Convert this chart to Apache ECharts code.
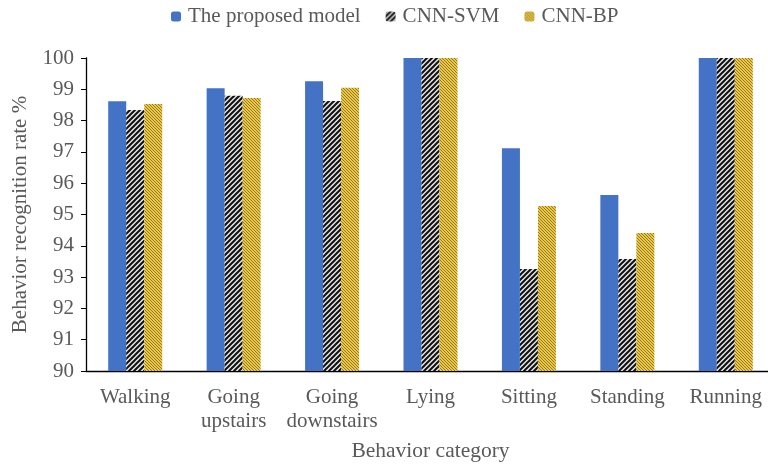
<!DOCTYPE html>
<html>
<head>
<meta charset="utf-8">
<script src="https://cdn.jsdelivr.net/npm/echarts@6/dist/echarts.min.js"></script>
<style>
  html, body { margin: 0; padding: 0; background: #fff; }
  #chart { width: 768px; height: 465px; }
</style>
</head>
<body>
<div id="chart"></div>
<script>
const categories = ["Walking", "Going\nupstairs", "Going\ndownstairs", "Lying", "Sitting", "Standing", "Running"];
const proposed = [98.62, 99.03, 99.26, 100, 97.12, 95.62, 100];
const cnnSvm = [98.34, 98.79, 98.63, 100, 93.26, 93.58, 100];
const cnnBp = [98.53, 98.72, 99.05, 100, 95.27, 94.41, 100];

const font = "'Liberation Serif', 'Times New Roman', serif";
const textGray = "#595959";

// hatched fill for CNN-SVM: black "//" stripes on white
function stripePattern() {
    const c = document.createElement("canvas");
    c.width = 5; c.height = 5;
    const g = c.getContext("2d");
    g.fillStyle = "#e6e6e6";
    g.fillRect(0, 0, 5, 5);
    g.strokeStyle = "#111";
    g.lineWidth = 2;
    g.beginPath();
    g.moveTo(-1, 6); g.lineTo(6, -1);
    g.moveTo(-6, 6); g.lineTo(1, -1);
    g.moveTo(4, 6); g.lineTo(11, -1);
    g.stroke();
    return c;
}

// fine gold hatch for CNN-BP
function goldPattern() {
    const c = document.createElement("canvas");
    c.width = 3; c.height = 3;
    const g = c.getContext("2d");
    g.fillStyle = "#e8c84c";
    g.fillRect(0, 0, 3, 3);
    g.fillStyle = "#9a7a1c";
    g.fillRect(0, 0, 1, 1);
    g.fillRect(1, 1, 1, 1);
    g.fillRect(2, 2, 1, 1);
    return c;
}

const svmFill = { image: stripePattern(), repeat: "repeat" };
const bpFill = { image: goldPattern(), repeat: "repeat" };

const chart = echarts.init(document.getElementById("chart"));
chart.setOption({
    animation: false,
    textStyle: { fontFamily: font },
    legend: {
        top: 1,
        left: 166,
        itemWidth: 10,
        itemHeight: 10,
        itemGap: 25,
        textStyle: { fontFamily: font, fontSize: 21, color: textGray, padding: [0, 0, 0, 2] },
        data: ["The proposed model", "CNN-SVM", "CNN-BP"]
    },
    grid: { left: 86, top: 58, width: 689, height: 313, outerBoundsMode: "none", containLabel: false },
    xAxis: {
        type: "category",
        data: categories,
        name: "Behavior category",
        nameLocation: "middle",
        nameGap: 69,
        nameTextStyle: { fontFamily: font, fontSize: 21.5, color: textGray },
        axisLine: { lineStyle: { color: "#000", width: 1.3 } },
        axisTick: { length: 5, lineStyle: { color: "#000" } },
        axisLabel: { interval: 0, fontFamily: font, fontSize: 21, color: textGray, margin: 14, lineHeight: 24 }
    },
    yAxis: {
        type: "value",
        min: 90,
        max: 100,
        interval: 1,
        name: "Behavior recognition rate %",
        nameLocation: "middle",
        nameGap: 55,
        nameTextStyle: { fontFamily: font, fontSize: 21, color: textGray },
        splitLine: { show: false },
        axisLine: { show: true, lineStyle: { color: "#000", width: 1.3 } },
        axisTick: { show: true, length: 5, lineStyle: { color: "#000" } },
        axisLabel: { fontFamily: font, fontSize: 21, color: textGray, margin: 12 }
    },
    series: [
        {
            name: "The proposed model",
            type: "bar",
            data: proposed,
            barWidth: 18,
            barGap: "0%",
            itemStyle: { color: "#4472c4" }
        },
        {
            name: "CNN-SVM",
            type: "bar",
            data: cnnSvm,
            barWidth: 18,
            barGap: "0%",
            itemStyle: { color: svmFill }
        },
        {
            name: "CNN-BP",
            type: "bar",
            data: cnnBp,
            barWidth: 18,
            barGap: "0%",
            itemStyle: { color: bpFill }
        }
    ]
});
</script>
</body>
</html>
